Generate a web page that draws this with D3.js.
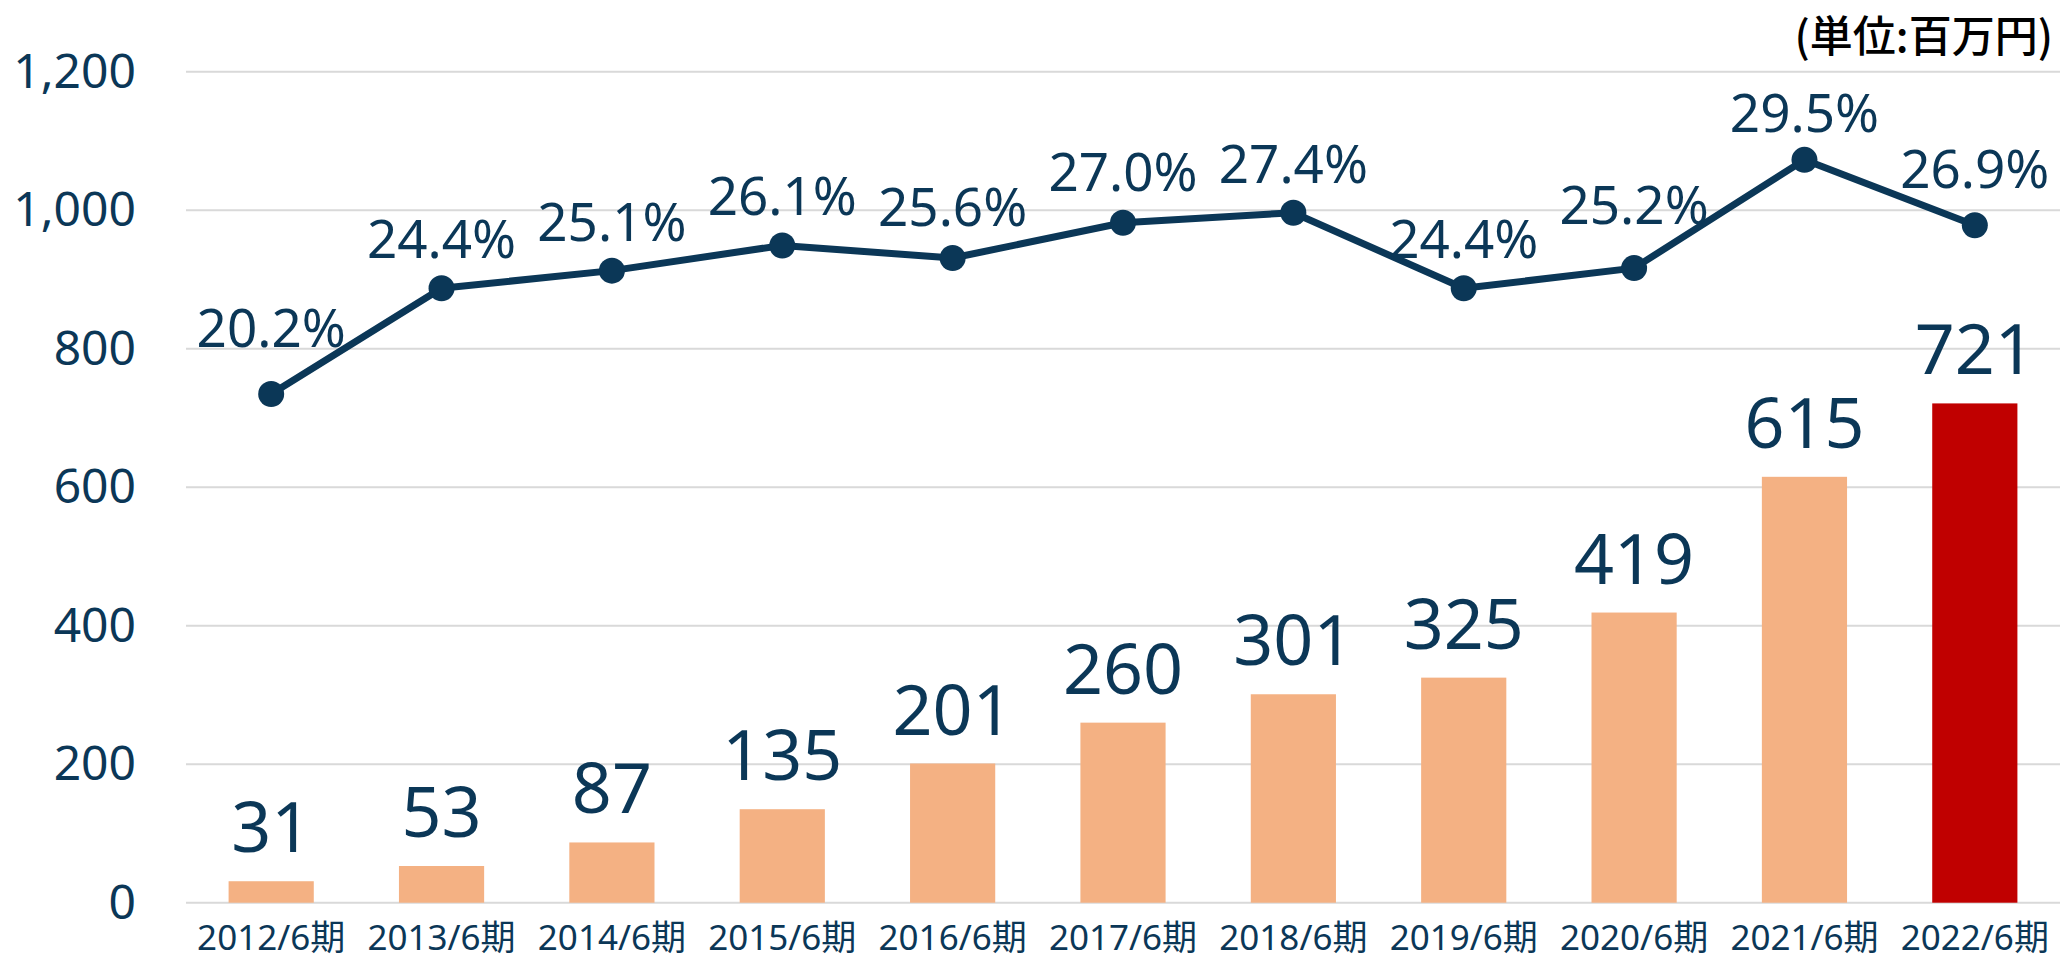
<!DOCTYPE html>
<html>
<head>
<meta charset="utf-8">
<script src="https://cdn.jsdelivr.net/npm/d3@7"></script>
<style>
	body { margin: 0; background: #fff; }
	svg text { font-family: "Noto Sans", "Noto Sans CJK JP", sans-serif; }
</style>
</head>
<body>
<div id="chart"></div>
<script>
// chart data
const periods = ["2012/6期", "2013/6期", "2014/6期", "2015/6期", "2016/6期", "2017/6期",
	"2018/6期", "2019/6期", "2020/6期", "2021/6期", "2022/6期"];
const profit = [31, 53, 87, 135, 201, 260, 301, 325, 419, 615, 721];
const ratio = [20.2, 24.4, 25.1, 26.1, 25.6, 27.0, 27.4, 24.4, 25.2, 29.5, 26.9];
const y_ticks = [0, 200, 400, 600, 800, 1000, 1200];
const unit_label = "(単位:百万円)";

// label tweaks (pixels) for the percentage labels, moved by hand in the original
const ratio_label_dy = [17, 0, 0, 0, 2, 2, 0, 0, 14, -2, 7];

const navy = "#0b3757";
const width = 2062,
	height = 959;
const margin = { top: 71.7, right: 2, bottom: 56.3, left: 186 };

const svg = d3
	.select("#chart")
	.append("svg")
	.attr("width", width)
	.attr("height", height);

const x = d3
	.scaleBand()
	.domain(periods)
	.range([margin.left, width - margin.right])
	.paddingInner(0.5)
	.paddingOuter(0.25);

const y = d3
	.scaleLinear()
	.domain([0, 1200])
	.range([height - margin.bottom, margin.top]);

// secondary (hidden) axis for the ratio line
const y2 = d3
	.scaleLinear()
	.domain([0, 33])
	.range([height - margin.bottom, margin.top]);

// gridlines
svg.append("g")
	.selectAll("line")
	.data(y_ticks)
	.enter()
	.append("line")
	.attr("x1", margin.left)
	.attr("x2", width - margin.right)
	.attr("y1", (d) => y(d))
	.attr("y2", (d) => y(d))
	.style("stroke", "#d9d9d9")
	.style("stroke-width", 2);

// y axis labels
const y_axis = svg
	.append("g")
	.attr("transform", "translate(" + margin.left + ",0)")
	.call(
		d3.axisLeft(y)
			.tickValues(y_ticks)
			.tickFormat(d3.format(","))
			.tickSize(0)
			.tickPadding(50)
	);
y_axis.select(".domain").remove();
y_axis.selectAll("text")
	.style("font-size", "48px")
	.style("fill", navy);

// x axis labels
const x_axis = svg
	.append("g")
	.attr("transform", "translate(0," + y(0) + ")")
	.call(d3.axisBottom(x).tickSize(0).tickPadding(22.5));
x_axis.select(".domain").remove();
x_axis.selectAll("text")
	.style("font-size", "35px")
	.style("fill", navy);

// bars
svg.append("g")
	.selectAll("rect")
	.data(profit)
	.enter()
	.append("rect")
	.attr("x", (d, i) => x(periods[i]))
	.attr("y", (d) => y(d))
	.attr("width", x.bandwidth())
	.attr("height", (d) => y(0) - y(d))
	.style("fill", (d, i) => (i === profit.length - 1 ? "#c00000" : "#f4b183"));

// bar value labels
svg.append("g")
	.selectAll("text")
	.data(profit)
	.enter()
	.append("text")
	.attr("x", (d, i) => x(periods[i]) + x.bandwidth() / 2)
	.attr("y", (d) => y(d) - 29)
	.attr("text-anchor", "middle")
	.style("font-size", "70px")
	.style("fill", navy)
	.text((d) => d);

// ratio line
const line = d3
	.line()
	.x((d, i) => x(periods[i]) + x.bandwidth() / 2)
	.y((d) => y2(d));

svg.append("path")
	.datum(ratio)
	.attr("d", line)
	.style("fill", "none")
	.style("stroke", navy)
	.style("stroke-width", 7)
	.style("stroke-linejoin", "round");

svg.append("g")
	.selectAll("circle")
	.data(ratio)
	.enter()
	.append("circle")
	.attr("cx", (d, i) => x(periods[i]) + x.bandwidth() / 2)
	.attr("cy", (d) => y2(d))
	.attr("r", 13)
	.style("fill", navy);

svg.append("g")
	.selectAll("text")
	.data(ratio)
	.enter()
	.append("text")
	.attr("x", (d, i) => x(periods[i]) + x.bandwidth() / 2)
	.attr("y", (d, i) => y2(d) - 30 - ratio_label_dy[i])
	.attr("text-anchor", "middle")
	.style("font-size", "53px")
	.style("fill", navy)
	.text((d) => d.toFixed(1) + "%");

// unit note
svg.append("text")
	.attr("x", 2053)
	.attr("y", 52)
	.attr("text-anchor", "end")
	.style("font-family", '"Noto Sans CJK JP", sans-serif')
	.style("font-size", "43px")
	.style("font-weight", 500)
	.style("fill", "#000")
	.text(unit_label);
</script>
</body>
</html>
